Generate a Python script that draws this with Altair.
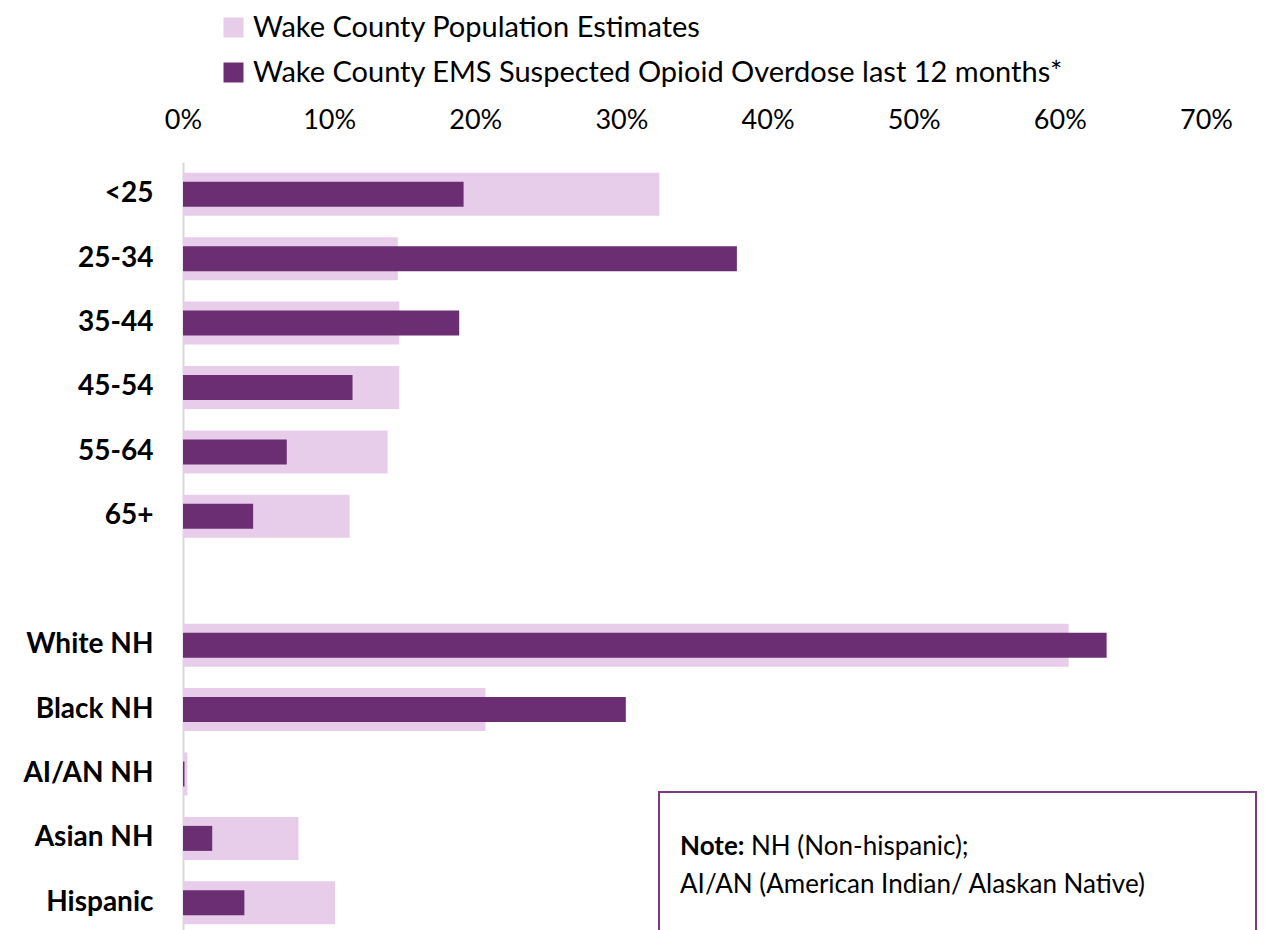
import altair as alt
import pandas as pd

categories = ["<25", "25-34", "35-44", "45-54", "55-64", "65+", " ",
              "White NH", "Black NH", "AI/AN NH", "Asian NH", "Hispanic"]
population = [0.326, 0.147, 0.148, 0.148, 0.140, 0.114, None,
              0.606, 0.207, 0.003, 0.079, 0.104]
ems = [0.192, 0.379, 0.189, 0.116, 0.071, 0.048, None,
       0.632, 0.303, 0.001, 0.020, 0.042]
series_names = ["Wake County Population Estimates",
                "Wake County EMS Suspected Opioid Overdose last 12 months*"]
colors = ["#e7cde9", "#6c2e73"]
x_ticks = [0, 0.1, 0.2, 0.3, 0.4, 0.5, 0.6, 0.7]
note_bold = "Note:"
note_line1 = "NH (Non-hispanic);"
note_line2 = "AI/AN (American Indian/ Alaskan Native)"

rows = []
for c, p, e in zip(categories, population, ems):
    rows.append({"cat": c, "series": series_names[0], "value": p})
    rows.append({"cat": c, "series": series_names[1], "value": e})
df = pd.DataFrame(rows)

FONT = "Lato"

y_enc = alt.Y("cat:N", sort=categories, scale=alt.Scale(domain=categories, paddingInner=0, paddingOuter=0),
              axis=alt.Axis(title=None, ticks=False, domainColor="#d9d9d9", domainWidth=2,
                            labelFont=FONT, labelFontSize=28, labelFontWeight="bold",
                            labelColor="#000000", labelPadding=30))
x_enc = alt.X("value:Q", scale=alt.Scale(domain=[0, 0.7], nice=False),
              axis=alt.Axis(title=None, orient="top", format=".0%", values=x_ticks,
                            domain=False, ticks=False, grid=False, labelFont=FONT,
                            labelFontSize=27, labelColor="#000000", labelPadding=28,
                            labelFlush=False, labelOverlap=False))
color_enc = alt.Color("series:N", scale=alt.Scale(domain=series_names, range=colors),
                      legend=alt.Legend(title=None, orient="none", legendX=36, legendY=-149,
                                        direction="vertical", symbolType="square", symbolSize=400,
                                        symbolStrokeWidth=0, labelFont=FONT, labelFontSize=29,
                                        labelColor="#000000", rowPadding=15, labelOffset=5,
                                        labelLimit=1000))

base = alt.Chart(df)
pop_bars = base.transform_filter(alt.datum.series == series_names[0]).transform_filter(
    "isValid(datum.value)").mark_bar(size=43).encode(y=y_enc, x=x_enc, color=color_enc)
ems_bars = base.transform_filter(alt.datum.series == series_names[1]).transform_filter(
    "isValid(datum.value)").mark_bar(size=25).encode(y=y_enc, x=x_enc, color=color_enc)

note_df = pd.DataFrame({"a": [0]})
box = alt.Chart(note_df).mark_rect(fill="white", stroke="#7a3a82", strokeWidth=2).encode(
    x=alt.value(476), x2=alt.value(1073), y=alt.value(630), y2=alt.value(820))
t_bold = alt.Chart(note_df).mark_text(text=note_bold, font=FONT, fontSize=26, fontWeight="bold",
                                      align="left", baseline="middle", color="#000000").encode(
    x=alt.value(497), y=alt.value(685))
t1 = alt.Chart(note_df).mark_text(text=note_line1, font=FONT, fontSize=26,
                                  align="left", baseline="middle", color="#000000").encode(
    x=alt.value(568), y=alt.value(685))
t2 = alt.Chart(note_df).mark_text(text=note_line2, font=FONT, fontSize=26,
                                  align="left", baseline="middle", color="#000000").encode(
    x=alt.value(497), y=alt.value(723))

chart = alt.layer(pop_bars, ems_bars, box, t_bold, t1, t2).properties(
    width=1023, height=773,
    autosize=alt.AutoSizeParams(type="none"),
    padding={"left": 175, "top": 154, "right": 52, "bottom": 0},
).configure_view(stroke=None)

chart.save("out.html", embed_options={"renderer": "svg", "actions": False})
